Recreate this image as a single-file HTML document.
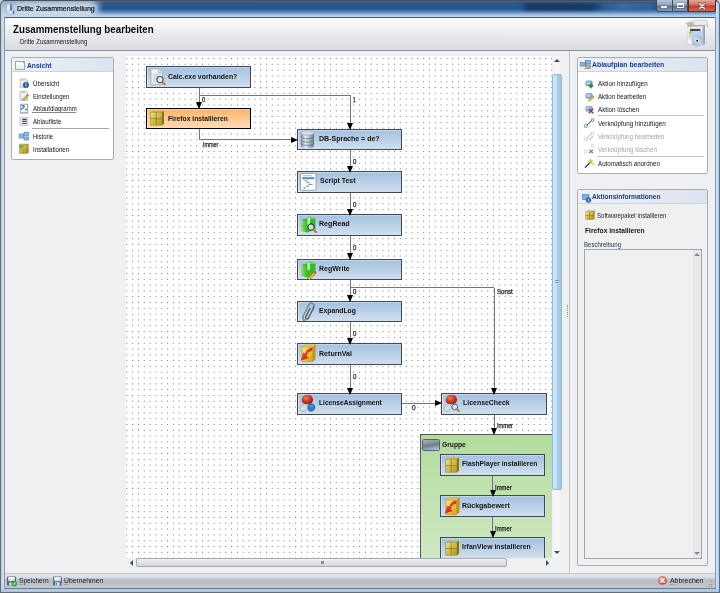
<!DOCTYPE html><html><head><meta charset="utf-8"><style>
*{margin:0;padding:0;box-sizing:border-box}
html,body{width:720px;height:593px;overflow:hidden}
body{position:relative;font-family:"Liberation Sans",sans-serif;background:#c3d7ed;color:#000}
.a{position:absolute}
.t{position:absolute;white-space:nowrap;line-height:1}
.node{position:absolute;border:1px solid #3f4a56;background:linear-gradient(#a3c1e0,#d0dfee);box-shadow:inset 1px 1px 0 rgba(255,255,255,.35)}
.node .l{position:absolute;left:22px;top:50%;transform:translateY(-50%);font-weight:bold;font-size:7.3px;white-space:nowrap;line-height:1;color:#111}
.node svg{position:absolute}
.vl{position:absolute;width:1px;background:#747474}
.hl{position:absolute;height:1px;background:#747474}
.arD{position:absolute;width:0;height:0;border-left:3.5px solid transparent;border-right:3.5px solid transparent;border-top:7px solid #000}
.arR{position:absolute;width:0;height:0;border-top:3.5px solid transparent;border-bottom:3.5px solid transparent;border-left:7px solid #000}
.lb{position:absolute;font-size:6px;line-height:1;color:#222;white-space:nowrap}
.panel{position:absolute;border:1px solid #a9adb3;border-radius:2px;background:#fff}
.ph{position:absolute;left:0;top:0;right:0;height:14px;background:linear-gradient(to right,#eef2f8,#dbe3ee);border-bottom:1px solid #c9d2de}
.pht{position:absolute;font-weight:bold;font-size:6.9px;color:#1e3a8a;white-space:nowrap;line-height:1}
.it{position:absolute;font-size:6.3px;color:#111;white-space:nowrap;line-height:1}
.sep{position:absolute;height:1px;background:#a8a8a8}
</style></head><body><div id="root" style="position:absolute;left:0;top:0;width:720px;height:593px;overflow:hidden">
<div class="a" style="left:0;top:0;width:720px;height:593px;border:1px solid #656c74;border-top-color:#474e56;border-radius:5px 5px 0 0"></div>
<div class="a" style="left:1px;top:1px;width:718px;height:16px;background:linear-gradient(#4a72a2 0,#2a5a92 1px,#245890 8px,#5d86b6 11px,#a5c4e6 14px,#bcd6f2 16px);border-radius:4px 4px 0 0"></div>
<div class="a" style="left:520px;top:2.5px;width:84px;height:8.5px;background:linear-gradient(to right,rgba(14,32,60,0),rgba(14,32,60,.55) 10%,rgba(14,32,60,.5) 85%,rgba(14,32,60,0));filter:blur(1px)"></div>
<div class="a" style="left:600px;top:3px;width:52px;height:7px;background:linear-gradient(to right,rgba(120,150,185,0),rgba(120,150,185,.25) 40%,rgba(120,150,185,.15));filter:blur(1.2px)"></div>
<div class="a" style="left:1px;top:1px;width:104px;height:16px;background:linear-gradient(#97aec8,#b4c8de 50%,#c6daf0);-webkit-mask-image:linear-gradient(to right,#000 88px,transparent 103px);border-radius:4px 0 0 0"></div>
<div class="a" style="left:14px;top:3px;width:84px;height:11px;border-radius:5px;background:rgba(212,226,240,.55);filter:blur(1.5px)"></div>
<div class="a" style="left:1px;top:14px;width:3px;height:578px;background:linear-gradient(to right,#b0cae6,#c2dcf6 40%,#c8e0f8)"></div>
<div class="a" style="left:716px;top:2px;width:3px;height:590px;border-radius:0 3px 0 0;background:linear-gradient(to right,#c8e0f8,#c2dcf6 60%,#b0cae6)"></div>
<div class="a" style="left:1px;top:589px;width:718px;height:3px;background:linear-gradient(#b4d2f2,#a4c2e2)"></div>
<svg class="a" style="left:0;top:0" width="18" height="17" viewBox="0 0 18 17">
<defs><linearGradient id="tig" x1="0" x2="1"><stop offset="0" stop-color="#c8dcee"/><stop offset=".5" stop-color="#f4f8fc"/><stop offset="1" stop-color="#b8d0e8"/></linearGradient></defs>
<path d="M6.6 4.8 l1-.6 h2.6 v7.5 h-3.6z" fill="url(#tig)" stroke="#8aa0b8" stroke-width=".3"/>
<path d="M10.2 4.2 l1.8 .6 v5.5 l-1.8 .3z" fill="#4a7eb6"/>
<path d="M7.8 10.6 h5 l1.3 .7 v2.4 l-1.2 .6 h-5z" fill="#d4e4f2" stroke="#7a96b4" stroke-width=".3"/>
<path d="M12.8 10.6 l1.3 .7 v2.4 l-1.2 .6z" fill="#3a6494"/>
</svg>
<div class="t" style="left:16.80px;top:4.91px;font-size:7.20px;color:#101018;transform:scaleX(0.9733);transform-origin:0 0;-webkit-text-stroke:0.2px #101018;">Dritte Zusammenstellung</div>
<div class="a" style="left:656px;top:0;width:32px;height:12px;border:1px solid #3c4a5a;border-top:none;border-radius:0 0 0 3px;background:linear-gradient(#b6c6d8,#8ea4bc 45%,#5b7391 55%,#7f98b4)"></div>
<div class="a" style="left:672px;top:0;width:1px;height:11px;background:#3c4a5a"></div>
<div class="a" style="left:688px;top:0;width:28px;height:12px;border:1px solid #5a2a20;border-top:none;border-radius:0 0 3px 0;background:linear-gradient(#e8a898,#d27060 45%,#c03a22 55%,#d86a50)"></div>
<div class="a" style="left:661px;top:6px;width:6px;height:2px;background:#fff;box-shadow:0 0 1px #333"></div>
<div class="a" style="left:677px;top:3px;width:7px;height:5px;border:1px solid #fff;border-top-width:2px;box-shadow:0 0 1px #333"></div>
<svg class="a" style="left:698px;top:2px" width="8" height="8" viewBox="0 0 8 8"><path d="M1.5 1.5 l5 5 M6.5 1.5 l-5 5" stroke="#5a3a38" stroke-width="2.6" stroke-linecap="round"/><path d="M1.5 1.5 l5 5 M6.5 1.5 l-5 5" stroke="#fff" stroke-width="1.5" stroke-linecap="round"/></svg>
<div class="a" style="left:4px;top:17px;width:712px;height:572px;border:1px solid #8e98a2;border-top-color:#50585f;border-bottom-color:#6e7884;background:#eff0f2"></div>
<div class="a" style="left:5px;top:18px;width:710px;height:33px;background:linear-gradient(#fdfdfd,#f2f2f3 30%,#d7dbe0);border-bottom:1px solid #8f9397"></div>
<div class="t" style="left:12.90px;top:23.87px;font-size:10.90px;font-weight:bold;color:#0a0a0a;transform:scaleX(0.8934);transform-origin:0 0;">Zusammenstellung bearbeiten</div>
<div class="t" style="left:19.70px;top:37.67px;font-size:7.00px;color:#1a1a22;transform:scaleX(0.8649);transform-origin:0 0;">Dritte Zusammenstellung</div>
<svg class="a" style="left:684px;top:18px" width="28" height="32" viewBox="0 0 28 32">
<defs><linearGradient id="cdg" x1="0" y1="0" x2="1" y2="1"><stop offset="0" stop-color="#e8f0f8"/><stop offset=".5" stop-color="#a8bed4"/><stop offset="1" stop-color="#d8e4ee"/></linearGradient>
<linearGradient id="bsd" x1="0" x2="1"><stop offset="0" stop-color="#c0ccd8"/><stop offset="1" stop-color="#8a9cb0"/></linearGradient></defs>
<path d="M9.5 2.2 l13.5 -.2 l.6 5 l-13.5 .5z" fill="#eceef0" stroke="#a8b0b8" stroke-width=".5"/>
<path d="M2.2 5.2 l5.5-1.5 l2.5 3.5 l-5.5 1.2z" fill="#b4bec8" stroke="#8a96a2" stroke-width=".4"/>
<path d="M23 7 l1.5 1.5 l-1 1.2z" fill="#8a96a2"/>
<path d="M18 9 l3-1.5 v18.5 l-3 1.8z" fill="url(#bsd)"/>
<rect x="4" y="8.5" width="14.2" height="17.5" fill="#fbfcfd" stroke="#b8c0c8" stroke-width=".5"/>
<path d="M4.5 8.3 l13.5-.8 l3 .3" stroke="#d8a838" stroke-width="1" fill="none"/>
<rect x="6" y="10.8" width="10.5" height="2.2" fill="#3a4a60"/>
<rect x="5" y="13" width="13" height="7.5" fill="#b8d8f4"/>
<circle cx="6.5" cy="14.3" r="1.6" fill="#f0c020"/>
<circle cx="13.2" cy="22.7" r="5.5" fill="url(#cdg)" stroke="#8aa0b8" stroke-width=".5"/>
<circle cx="13.2" cy="22.7" r="2.6" fill="#d8e4ee" stroke="#a8b8c8" stroke-width=".4"/>
<circle cx="13.2" cy="22.7" r="1" fill="#1a1a1a"/>
</svg>
<div class="panel" style="left:11px;top:57px;width:103px;height:103px">
<div class="ph"></div>
<div class="a" style="left:3px;top:3px;width:10px;height:9px;border:1px solid #9aa6b4;background:linear-gradient(#fff,#e6ecf2)"></div>
<div class="a" style="left:11px;top:4px;width:1px;height:1px;background:#e86a3a"></div>
</div>
<div class="t" style="left:26.50px;top:61.87px;font-size:7.00px;font-weight:bold;color:#1e3a8a;transform:scaleX(0.9544);transform-origin:0 0;">Ansicht</div>
<div class="t" style="left:32.50px;top:80.07px;font-size:7.00px;color:#141414;transform:scaleX(0.8895);transform-origin:0 0;">Übersicht</div>
<div class="t" style="left:32.50px;top:92.77px;font-size:7.00px;color:#141414;transform:scaleX(0.8612);transform-origin:0 0;">Einstellungen</div>
<div class="t" style="left:32.50px;top:105.37px;font-size:7.00px;color:#141414;transform:scaleX(0.8573);transform-origin:0 0;">Ablaufdiagramm</div>
<div class="t" style="left:32.50px;top:118.47px;font-size:7.00px;color:#141414;transform:scaleX(0.8762);transform-origin:0 0;">Ablaufliste</div>
<div class="t" style="left:32.50px;top:132.97px;font-size:7.00px;color:#141414;transform:scaleX(0.8471);transform-origin:0 0;">Historie</div>
<div class="t" style="left:32.50px;top:145.87px;font-size:7.00px;color:#141414;transform:scaleX(0.8774);transform-origin:0 0;">Installationen</div>
<svg class="a" style="left:17px;top:76px" width="14" height="80" viewBox="17 76 14 80">
<defs><linearGradient id="lpd" x1="0" y1="0" x2="1" y2="1"><stop offset="0" stop-color="#fdfdfd"/><stop offset="1" stop-color="#cfe0f0"/></linearGradient>
<linearGradient id="lpg" x1="0" y1="0" x2="1" y2="1"><stop offset="0" stop-color="#f0e088"/><stop offset="1" stop-color="#a88c18"/></linearGradient></defs>
<!-- Uebersicht -->
<path d="M20.2 79 h5.8 l1.6 1.6 v6.6 h-7.4z" fill="url(#lpd)" stroke="#8a96a4" stroke-width=".6"/>
<path d="M21.2 80.2 h3.5" stroke="#e0c060" stroke-width=".8"/>
<circle cx="25.9" cy="85" r="2.8" fill="#1a5aa8" stroke="#0e3a78" stroke-width=".4"/>
<rect x="25.5" y="84.2" width=".9" height="2.3" fill="#fff"/><rect x="25.5" y="82.9" width=".9" height=".8" fill="#fff"/>
<!-- Einstellungen -->
<path d="M20.2 91.5 h5.8 l1.6 1.6 v7.2 h-7.4z" fill="url(#lpd)" stroke="#8a96a4" stroke-width=".6"/>
<path d="M21.2 92.7 h3.5" stroke="#e0c060" stroke-width=".8"/>
<path d="M22.3 99.6 l4.8-4.8 l1.3 1.3 l-4.8 4.8z" fill="#e8b828" stroke="#8a6010" stroke-width=".4"/>
<path d="M27.1 94.8 l1.3 1.3 l.7-.7 l-1.3-1.3z" fill="#e04848"/>
<!-- Ablaufdiagramm -->
<rect x="20.3" y="104.2" width="7.4" height="8.6" fill="#f4f8fb" stroke="#7a8894" stroke-width=".7"/>
<path d="M27.7 104.6 v8.6 h-7" stroke="#a0a8b0" stroke-width=".8" fill="none"/>
<path d="M21.5 106 q1.5-1 2.8 .5 q-.5 1.5 -1.8 1.8 q-1.2 .3 -1 1.5" stroke="#2a6ab8" stroke-width="1.1" fill="none"/>
<circle cx="25.9" cy="109.5" r="1.1" fill="#40b040"/><circle cx="24.2" cy="106" r=".7" fill="#60c060"/>
<!-- Ablaufliste -->
<rect x="19.9" y="117.2" width="8" height="8.4" fill="#f0f2f4" stroke="#b0b6bc" stroke-width=".6"/>
<path d="M20.9 117.5 v8" stroke="#c8ccd0" stroke-width=".5"/>
<path d="M22.2 119.4 h4.6 M22.2 121.4 h4.6 M22.2 123.5 h4.6" stroke="#1e4a88" stroke-width="1.1"/>
<!-- Historie -->
<rect x="19.2" y="134" width="4.1" height="4.1" rx=".5" fill="#8cc0ec" stroke="#2a64a8" stroke-width=".6"/>
<rect x="23.9" y="132.3" width="4.8" height="3.3" rx=".5" fill="#8cc0ec" stroke="#2a64a8" stroke-width=".6"/>
<rect x="23.9" y="136.9" width="4.8" height="3.1" rx=".5" fill="#8cc0ec" stroke="#2a64a8" stroke-width=".6"/>
<path d="M23.3 136 h.6" stroke="#2a64a8" stroke-width=".8"/>
<!-- Installationen -->
<path d="M19.3 145 l1.5-1 h7.6 v8.2 l-1.2 1.2 h-7.9z" fill="url(#lpg)" stroke="#8a7410" stroke-width=".4"/>
<path d="M27.2 145 v8.4 M19.3 145 h7.9" stroke="#7a6810" stroke-width=".4" fill="none"/>
<path d="M23.2 145 v8.4 M19.3 149.2 h7.9" stroke="#9a8a30" stroke-width=".5"/>
<path d="M19.6 144.3 l3.6 2.2 l-3.6 2.4z" fill="#38b828"/>
</svg>
<div class="a" style="left:32.3px;top:112px;width:43.7px;height:1px;background:#8a8a8a"></div>
<div class="sep" style="left:32px;top:128px;width:77px"></div>
<div class="panel" style="left:577px;top:57px;width:131px;height:117px">
<div class="ph"></div>
<svg class="a" style="left:2px;top:2px" width="11" height="10" viewBox="0 0 11 10"><rect x="0.5" y="2.5" width="5" height="3.5" fill="#8ab8e0" stroke="#2a5a9a" stroke-width=".5"/><rect x="5.5" y="0.5" width="5" height="3.5" fill="#8ab8e0" stroke="#2a5a9a" stroke-width=".5"/><rect x="5.5" y="5" width="5" height="3.5" fill="#8ab8e0" stroke="#2a5a9a" stroke-width=".5"/><path d="M4 9 l4-4 l1 1 l-4 4z" fill="#e0b030"/></svg>
</div>
<div class="t" style="left:592.10px;top:61.47px;font-size:7.00px;font-weight:bold;color:#1e3a8a;transform:scaleX(0.9820);transform-origin:0 0;">Ablaufplan bearbeiten</div>
<svg class="a" style="left:583px;top:78px" width="14" height="92" viewBox="583 78 14 92">
<defs><linearGradient id="rpb" x1="0" y1="0" x2="1" y2="1"><stop offset="0" stop-color="#d8ecfc"/><stop offset="1" stop-color="#6aa4dc"/></linearGradient></defs>
<rect x="586" y="81.1" width="6.1" height="4.4" rx=".6" fill="url(#rpb)" stroke="#2a5a9a" stroke-width=".6"/>
<path d="M590.9 83.6 v4.6 M588.6 85.9 h4.6" stroke="#209020" stroke-width="1.7"/>
<rect x="586" y="93.7" width="6.1" height="4.4" rx=".6" fill="url(#rpb)" stroke="#2a5a9a" stroke-width=".6"/>
<path d="M588.3 100.3 l4.3-4.3 l1.2 1.2 l-4.3 4.3z" fill="#e8c030" stroke="#8a6010" stroke-width=".4"/><path d="M592.6 96 l1.2 1.2 l.6-.6 l-1.2-1.2z" fill="#e04848"/>
<rect x="586" y="106.7" width="6.1" height="4.4" rx=".6" fill="url(#rpb)" stroke="#2a5a9a" stroke-width=".6"/>
<path d="M588.8 108.8 l4.4 4.4 M593.2 108.8 l-4.4 4.4" stroke="#d42020" stroke-width="1.4"/>
<g fill="#dfeef8" stroke="#505a64" stroke-width=".6"><circle cx="592.6" cy="120.2" r="1.5"/><circle cx="585.8" cy="126" r="1.6"/></g>
<path d="M587 125 l4.4-4" stroke="#383e44" stroke-width="1"/>
<g opacity=".4"><g fill="#eef4f8" stroke="#606870" stroke-width=".6"><circle cx="592.6" cy="133" r="1.5"/><circle cx="585.8" cy="138.8" r="1.6"/></g>
<path d="M587 137.8 l4.4-4" stroke="#404850" stroke-width="1"/><path d="M588.5 139.5 l4-4 l1 1 l-4 4z" fill="#808080"/>
<g fill="#eef4f8" stroke="#606870" stroke-width=".6"><circle cx="592.6" cy="145.8" r="1.5"/><circle cx="585.8" cy="151.6" r="1.6"/></g></g>
<path d="M589.3 149.6 l3.6 3.6 M592.9 149.6 l-3.6 3.6" stroke="#707478" stroke-width="1.1"/>
<path d="M585 167.6 l5.6-5.6" stroke="#2a2e32" stroke-width="1.3"/>
<path d="M590.2 159 l.8 1.6 l1.7-.1 l-1 1.3 l.8 1.5 l-1.6-.4 l-1.1 1.2 l-.1-1.7 l-1.5-.8 l1.6-.5z" fill="#e8d020" stroke="#a89010" stroke-width=".3"/>
<path d="M593.2 162.4 l.5 1 l1.1 0 l-.7.8 l.4 1 l-1-.3 l-.8.8 l0-1.1 l-1-.5 l1.1-.3z" fill="#e8d020"/>
</svg>
<div class="t" style="left:597.90px;top:80.27px;font-size:7.00px;color:#141414;transform:scaleX(0.8930);transform-origin:0 0;">Aktion hinzufügen</div>
<div class="t" style="left:597.90px;top:92.87px;font-size:7.00px;color:#141414;transform:scaleX(0.8827);transform-origin:0 0;">Aktion bearbeiten</div>
<div class="t" style="left:597.90px;top:105.87px;font-size:7.00px;color:#141414;transform:scaleX(0.9027);transform-origin:0 0;">Aktion löschen</div>
<div class="t" style="left:597.90px;top:120.07px;font-size:7.00px;color:#141414;transform:scaleX(0.8978);transform-origin:0 0;">Verknüpfung hinzufügen</div>
<div class="t" style="left:597.90px;top:132.87px;font-size:7.00px;color:#a4a4a4;transform:scaleX(0.8917);transform-origin:0 0;">Verknüpfung bearbeiten</div>
<div class="t" style="left:597.90px;top:145.67px;font-size:7.00px;color:#a4a4a4;transform:scaleX(0.9007);transform-origin:0 0;">Verknüpfung löschen</div>
<div class="t" style="left:597.90px;top:160.07px;font-size:7.00px;color:#141414;transform:scaleX(0.8836);transform-origin:0 0;">Automatisch anordnen</div>
<div class="sep" style="left:598px;top:115px;width:105.5px;background:#c0c0c0"></div>
<div class="sep" style="left:598px;top:156px;width:105.5px;background:#c0c0c0"></div>
<div class="panel" style="left:577px;top:189px;width:131px;height:377px;background:#eff0f2">
<div class="ph"></div>
<svg class="a" style="left:4px;top:3.5px" width="10" height="9" viewBox="0 0 10 9"><rect x="0.5" y="0.5" width="6.5" height="5" fill="#7ab0e0" stroke="#3a6a9a" stroke-width=".5"/><circle cx="6.5" cy="6" r="2.5" fill="#2a6cc0" stroke="#1a4a8a" stroke-width=".4"/><rect x="6.1" y="5" width=".8" height="2.2" fill="#fff"/></svg>
</div>
<div class="t" style="left:592.20px;top:192.87px;font-size:7.00px;font-weight:bold;color:#1e3a8a;transform:scaleX(0.9483);transform-origin:0 0;">Aktionsinformationen</div>
<svg class="a" style="left:585px;top:210px" width="11" height="11" viewBox="0 0 11 11"><defs><linearGradient id="sbx" x1="0" y1="0" x2="1" y2="1"><stop offset="0" stop-color="#eee294"/><stop offset=".5" stop-color="#d0bc48"/><stop offset="1" stop-color="#a89020"/></linearGradient></defs><path d="M0.8 1.6 l1.6-1 h7.2 l-1.4 1z" fill="#c8b440"/><path d="M8.2 1.6 l1.4-1 v7.8 l-1.4 1.2z" fill="#8e7a14"/><rect x="0.8" y="1.6" width="7.4" height="8" fill="url(#sbx)" stroke="#9a8620" stroke-width=".4"/><path d="M4.5 1.6 v8 M0.8 5.6 h7.4" stroke="#8a7a28" stroke-width=".6"/></svg>
<div class="t" style="left:597.40px;top:211.97px;font-size:7.00px;color:#202020;transform:scaleX(0.8657);transform-origin:0 0;">Softwarepaket installieren</div>
<div class="t" style="left:585.30px;top:227.17px;font-size:7.00px;font-weight:bold;color:#141414;transform:scaleX(0.9590);transform-origin:0 0;">Firefox installieren</div>
<div class="t" style="left:583.90px;top:240.67px;font-size:7.00px;color:#283048;transform:scaleX(0.8666);transform-origin:0 0;">Beschreibung</div>
<div class="a" style="left:584px;top:249px;width:117.5px;height:310px;border:1px solid #a0a4a8;background:#eff0f2"></div>
<div class="a" style="left:693px;top:250px;width:7.5px;height:308px;background:#e8e8ea"></div>
<div class="a" style="left:694px;top:253px;width:0;height:0;border-left:3px solid transparent;border-right:3px solid transparent;border-bottom:3px solid #7a88b0"></div>
<div class="a" style="left:694px;top:551.5px;width:0;height:0;border-left:3px solid transparent;border-right:3px solid transparent;border-top:3px solid #7a88b0"></div>
<div class="a" style="left:569px;top:51px;width:1px;height:522px;background:#c4c6ca"></div>
<div class="a" style="left:567px;top:305px;width:1px;height:12px;border-left:1px dotted #8a8c90"></div>
<div class="a" style="left:5px;top:573px;width:710px;height:15px;border-top:1px solid #c6c8cc;background:linear-gradient(#e4e6ea 0,#dcdfe4 3px,#b9bdc5 6px,#bcc0c7 9px,#c6c9ce 14px)"></div>
<svg class="a" style="left:6px;top:576px" width="12" height="11" viewBox="6 576 12 11"><defs><linearGradient id="flb" x1="0" y1="0" x2="0" y2="1"><stop offset="0" stop-color="#ffffff"/><stop offset="1" stop-color="#bcd8f0"/></linearGradient></defs><rect x="7" y="576.5" width="9" height="9" rx="1" fill="#5c636b"/><rect x="8.2" y="577" width="6.6" height="4.2" fill="url(#flb)"/><rect x="9.3" y="582.4" width="4.4" height="3.1" fill="#dde2e8"/><circle cx="14.2" cy="583.6" r="2.7" fill="#34b03c" stroke="#1e8024" stroke-width=".4"/><path d="M12.9 583.6 l1 1 l1.6-1.9" stroke="#fff" stroke-width=".8" fill="none"/></svg>
<div class="t" style="left:18.50px;top:576.95px;font-size:7.50px;color:#202030;transform:scaleX(0.8764);transform-origin:0 0;"><u style="text-decoration-color:#a0a0a0">S</u>peichern</div>
<svg class="a" style="left:52px;top:576px" width="11" height="11" viewBox="52 576 11 11"><defs><linearGradient id="flb2" x1="0" y1="0" x2="0" y2="1"><stop offset="0" stop-color="#ffffff"/><stop offset="1" stop-color="#bcd8f0"/></linearGradient></defs><rect x="53.1" y="576.5" width="8.7" height="9" rx="1" fill="#4c6c90"/><rect x="54.2" y="577" width="6.5" height="4.2" fill="url(#flb2)"/><rect x="55.3" y="582.3" width="4.3" height="3.2" fill="#e4eaf0"/><rect x="56" y="583" width="1" height="1.8" fill="#4c6c90"/></svg>
<div class="t" style="left:64.40px;top:576.95px;font-size:7.50px;color:#202030;transform:scaleX(0.9063);transform-origin:0 0;"><u style="text-decoration-color:#a0a0a0">Ü</u>bernehmen</div>
<svg class="a" style="left:658px;top:576.3px" width="9" height="9" viewBox="0 0 9 9"><defs><radialGradient id="abg" cx=".4" cy=".35" r=".7"><stop offset="0" stop-color="#f8b0a8"/><stop offset=".6" stop-color="#e46a62"/><stop offset="1" stop-color="#c04040"/></radialGradient></defs><circle cx="4.5" cy="4.5" r="4.1" fill="url(#abg)" stroke="#b84848" stroke-width=".4"/><path d="M2.4 2.4l4.2 4.2M6.6 2.4l-4.2 4.2" stroke="#fff" stroke-width="1.3"/></svg>
<div class="t" style="left:669.60px;top:576.95px;font-size:7.50px;color:#202030;transform:scaleX(0.9206);transform-origin:0 0;"><u style="text-decoration-color:#a0a0a0">A</u>bbrechen</div>
<div class="a" style="left:711px;top:581px;width:1.2px;height:1.2px;background:#8a8e94"></div>
<div class="a" style="left:711px;top:583.5px;width:1.2px;height:1.2px;background:#8a8e94"></div>
<div class="a" style="left:708.5px;top:583.5px;width:1.2px;height:1.2px;background:#8a8e94"></div>
<div class="a" style="left:711px;top:586px;width:1.2px;height:1.2px;background:#8a8e94"></div>
<div class="a" style="left:708.5px;top:586px;width:1.2px;height:1.2px;background:#8a8e94"></div>
<div class="a" style="left:706px;top:586px;width:1.2px;height:1.2px;background:#8a8e94"></div>
<div class="a" style="left:126px;top:56px;width:426px;height:502px;background:#fff;overflow:hidden">
<svg class="a" style="left:0;top:0" width="426" height="502"><defs><pattern id="g" patternUnits="userSpaceOnUse" x="0.3" y="2.0" width="5.82" height="5.81"><rect x="0" y="0" width="1" height="1" fill="#7a7a7a"/></pattern></defs><rect width="100%" height="100%" fill="url(#g)"/></svg>
</div>
<div class="node" style="left:146.0px;top:66.0px;width:105.0px;height:22.0px;"><svg style="left:3px;top:1.3px" width="17" height="18" viewBox="0 0 17 18"><defs><linearGradient id="dsg" x1="0" y1="0" x2="1" y2="1"><stop offset="0" stop-color="#fafafa"/><stop offset="1" stop-color="#dcdcdc"/></linearGradient></defs><path d="M1 0.8 h7.5 l4 4 v12 h-11.5z" fill="url(#dsg)" stroke="#a0a0a0" stroke-width=".7"/><path d="M8.5 0.8 v4 h4" fill="#e4e4e4" stroke="#a8a8a8" stroke-width=".6"/><path d="M2.8 6.5h7M2.8 8.3h7M2.8 10.1h4.5M2.8 11.9h3.5M2.8 13.7h3" stroke="#c4c4c4" stroke-width=".8"/><circle cx="10" cy="11.6" r="3.1" fill="#e4eef6" stroke="#3c4650" stroke-width="1.1"/><path d="M12.3 13.9 l3.2 3.2" stroke="#b07830" stroke-width="2"/></svg></div>
<div class="t" style="left:168.40px;top:72.75px;font-size:7.50px;font-weight:bold;color:#121212;transform:scaleX(0.9185);transform-origin:0 0;">Calc.exe vorhanden?</div>
<div class="node" style="left:146.0px;top:108.0px;width:105.0px;height:21.0px;background:linear-gradient(#fbb468,#ffdcb6);border:1.5px solid #000"><svg style="left:1.6px;top:0.8px" width="17" height="17" viewBox="0 0 17 17"><defs><linearGradient id="bxg" x1="0" y1="0" x2="1" y2="1"><stop offset="0" stop-color="#eee294"/><stop offset=".5" stop-color="#d0bc48"/><stop offset="1" stop-color="#b09820"/></linearGradient></defs><path d="M1.5 2.2 l2.5-1.4 h11 l-2 1.4z" fill="#c8b440"/><path d="M13 2.2 l2-1.4 v12.6 l-2 1.8z" fill="#8e7a14"/><rect x="1.5" y="2.2" width="11.5" height="13" fill="url(#bxg)" stroke="#9a8620" stroke-width=".5"/><path d="M7.2 2.2 v13 M1.5 8.6 h11.5" stroke="#8a7a28" stroke-width=".8"/><path d="M14 1.5 v13" stroke="#6e6010" stroke-width=".5"/></svg></div>
<div class="t" style="left:168.20px;top:114.55px;font-size:7.50px;font-weight:bold;color:#121212;transform:scaleX(0.8966);transform-origin:0 0;">Firefox installieren</div>
<div class="node" style="left:297.0px;top:129.0px;width:105.0px;height:21.0px;"><svg style="left:2px;top:0.3px" width="15" height="19" viewBox="0 0 15 19"><defs><linearGradient id="dbg" x1="0" x2="1"><stop offset="0" stop-color="#7e8e9c"/><stop offset=".35" stop-color="#e6ecf0"/><stop offset=".6" stop-color="#b8c4ce"/><stop offset="1" stop-color="#6a7a88"/></linearGradient></defs><path d="M0.8 3 v13 a6.6 2.2 0 0 0 13.2 0 v-13z" fill="url(#dbg)"/><ellipse cx="7.4" cy="3" rx="6.6" ry="2.2" fill="#d4dde4" stroke="#8a98a6" stroke-width=".5"/><path d="M0.8 6.6 a6.6 2.2 0 0 0 13.2 0 M0.8 9.9 a6.6 2.2 0 0 0 13.2 0 M0.8 13.2 a6.6 2.2 0 0 0 13.2 0" fill="none" stroke="#5a6a78" stroke-width=".7"/></svg></div>
<div class="t" style="left:319.10px;top:135.05px;font-size:7.50px;font-weight:bold;color:#121212;transform:scaleX(0.9350);transform-origin:0 0;">DB-Sprache = de?</div>
<div class="node" style="left:297.0px;top:171.0px;width:105.0px;height:21.5px;"><svg style="left:2px;top:0.8px" width="17" height="18" viewBox="0 0 17 18"><rect x="0.5" y="0.5" width="15.5" height="16.8" rx="1.5" fill="#fbfcfd" stroke="#8a96a2" stroke-width=".8"/><path d="M3 2.8 h9" stroke="#7888a0" stroke-width=".6"/><rect x="2.3" y="4.3" width="12" height="1.8" fill="#3a88d6"/><path d="M4.5 7.8 h3 M6.5 9.6h3 M8.5 11.4h4 M6 13.2h3 M3.5 15h2.5" stroke="#3a4450" stroke-width=".65"/></svg></div>
<div class="t" style="left:319.50px;top:177.25px;font-size:7.50px;font-weight:bold;color:#121212;transform:scaleX(0.9292);transform-origin:0 0;">Script Test</div>
<div class="node" style="left:297.0px;top:214.0px;width:105.0px;height:21.5px;"><svg style="left:1.7px;top:1.2px" width="18" height="19" viewBox="0 0 18 19"><defs><linearGradient id="grg" x1="0" x2="1"><stop offset="0" stop-color="#8ef070"/><stop offset="1" stop-color="#38b020"/></linearGradient></defs><path d="M1 4 l5.5-1.5 l9 .5 v10 l-8 3.5 l-6.5-2z" fill="#3cb828"/><path d="M1 4 l6.5 1.5 v11 l-6.5-2z" fill="url(#grg)"/><path d="M6.5 2.5 l3-2 l6 1.5 v1 l-6-1z" fill="#60d040"/><path d="M7.5 2.5 l2.5 -1 v7 l-2.5 1z" fill="#c8f0b8"/><path d="M1 9.3 l6.5 1.8 M4.2 4.8 v10.8" stroke="#50c838" stroke-width=".5"/><circle cx="11" cy="11" r="3.1" fill="#dfeaf0" fill-opacity=".85" stroke="#3a4440" stroke-width="1.1"/><path d="M13.3 13.3 l3.4 3.4" stroke="#b07830" stroke-width="2"/></svg></div>
<div class="t" style="left:319.30px;top:220.45px;font-size:7.50px;font-weight:bold;color:#121212;transform:scaleX(0.9443);transform-origin:0 0;">RegRead</div>
<div class="node" style="left:297.0px;top:259.0px;width:105.0px;height:21.0px;"><svg style="left:1.7px;top:1.2px" width="18" height="19" viewBox="0 0 18 19"><defs><linearGradient id="grg" x1="0" x2="1"><stop offset="0" stop-color="#8ef070"/><stop offset="1" stop-color="#38b020"/></linearGradient></defs><path d="M1 4 l5.5-1.5 l9 .5 v10 l-8 3.5 l-6.5-2z" fill="#3cb828"/><path d="M1 4 l6.5 1.5 v11 l-6.5-2z" fill="url(#grg)"/><path d="M6.5 2.5 l3-2 l6 1.5 v1 l-6-1z" fill="#60d040"/><path d="M7.5 2.5 l2.5 -1 v7 l-2.5 1z" fill="#c8f0b8"/><path d="M1 9.3 l6.5 1.8 M4.2 4.8 v10.8" stroke="#50c838" stroke-width=".5"/><path d="M7.5 17.5 l6.5-6.5 l1.7 1.7 l-6.5 6.5 z" fill="#f0b830" stroke="#7a5010" stroke-width=".5"/><path d="M14 11 l1.7 1.7 l1-1 l-1.7-1.7z" fill="#e04040"/><path d="M7.5 17.5 l-.6 1.8 l1.9-.6z" fill="#333"/></svg></div>
<div class="t" style="left:319.30px;top:265.25px;font-size:7.50px;font-weight:bold;color:#121212;transform:scaleX(0.9365);transform-origin:0 0;">RegWrite</div>
<div class="node" style="left:297.0px;top:301.0px;width:105.0px;height:21.0px;"><svg style="left:3.7px;top:0px" width="14" height="20" viewBox="0 0 14 20"><path d="M3.5 18.5 C0.8 18.5 0.5 15.5 1.5 13.5 L7 2.5 C8.3 0.3 12 0.8 12 3.5 C12 5 11.4 6.2 10.8 7.4 L6.5 16 C5.4 17.8 2.8 17 3.8 14.8 L8.2 6" fill="none" stroke="#5c646c" stroke-width="1.5"/><path d="M3.5 18.5 C0.8 18.5 0.5 15.5 1.5 13.5 L7 2.5 C8.3 0.3 12 0.8 12 3.5" fill="none" stroke="#d0d4d8" stroke-width=".5"/></svg></div>
<div class="t" style="left:319.00px;top:307.45px;font-size:7.50px;font-weight:bold;color:#121212;transform:scaleX(0.9037);transform-origin:0 0;">ExpandLog</div>
<div class="node" style="left:297.0px;top:343.0px;width:105.0px;height:21.5px;"><svg style="left:2.1px;top:0.0px" width="17" height="19" viewBox="0 0 17 19"><defs><linearGradient id="rtg" x1="0" y1="0" x2="1" y2="1"><stop offset="0" stop-color="#fae878"/><stop offset=".5" stop-color="#f2c830"/><stop offset="1" stop-color="#d8a010"/></linearGradient><linearGradient id="rtr" x1="0" y1="0" x2="1" y2="1"><stop offset="0" stop-color="#ff8a8a"/><stop offset=".5" stop-color="#e83030"/><stop offset="1" stop-color="#b81818"/></linearGradient></defs><path d="M2 3 l3.5-2.2 h10 l-3 2.2z" fill="#f0d060" stroke="#b88a10" stroke-width=".4"/><path d="M12.5 3 l3-2.2 v14.5 l-3 2.6z" fill="#c8900c"/><rect x="2" y="3" width="10.5" height="14.9" fill="url(#rtg)" stroke="#b08410" stroke-width=".4"/><path d="M12 4 C8 4.3 6.2 6.8 6 10 L3.4 9 L1.2 16.2 L8.4 13.8 L6.2 12.5 C6.5 9.6 8.3 7.2 12 6.3 Z" fill="url(#rtr)" stroke="#a01414" stroke-width=".4"/></svg></div>
<div class="t" style="left:319.00px;top:349.75px;font-size:7.50px;font-weight:bold;color:#121212;transform:scaleX(0.9426);transform-origin:0 0;">ReturnVal</div>
<div class="node" style="left:297.0px;top:393.0px;width:105.0px;height:21.5px;"><svg style="left:1.3px;top:0px" width="18" height="19" viewBox="0 0 18 19"><defs><radialGradient id="lcg" cx=".4" cy=".35" r=".7"><stop offset="0" stop-color="#f08060"/><stop offset=".5" stop-color="#c84020"/><stop offset="1" stop-color="#8a2010"/></radialGradient></defs><path d="M3 4.5 q1-3.8 5.5-3.8 q4.2 0 5.2 3.3 q1 3.2 -1.2 5.2 q-4.2 2.2 -8.3 0 q-2.2-1.6 -1.2-4.7z" fill="url(#lcg)"/><path d="M0.8 14.5 q2-4.5 5.5-4.3 q3 1 2 4.3 q-2 3.2 -5.5 3.1z" fill="#d8dde2" stroke="#8a9098" stroke-width=".5"/><path d="M9.5 11 q2.5-2.5 5 -.5 q2.5 1.5 1 4.5 q-1.2 3 -4.5 2.2 q-3.2-1 -1.5-6.2z" fill="#2a7ccc" stroke="#1a4a8a" stroke-width=".5"/><path d="M11 12.5 q1.5-1 3 0" stroke="#9cd0f8" stroke-width=".7" fill="none"/></svg></div>
<div class="t" style="left:319.00px;top:399.35px;font-size:7.50px;font-weight:bold;color:#121212;transform:scaleX(0.8863);transform-origin:0 0;">LicenseAssignment</div>
<div class="node" style="left:441.0px;top:393.0px;width:105.5px;height:21.5px;"><svg style="left:1.3px;top:0px" width="18" height="19" viewBox="0 0 18 19"><defs><radialGradient id="lcg" cx=".4" cy=".35" r=".7"><stop offset="0" stop-color="#f08060"/><stop offset=".5" stop-color="#c84020"/><stop offset="1" stop-color="#8a2010"/></radialGradient></defs><path d="M3 4.5 q1-3.8 5.5-3.8 q4.2 0 5.2 3.3 q1 3.2 -1.2 5.2 q-4.2 2.2 -8.3 0 q-2.2-1.6 -1.2-4.7z" fill="url(#lcg)"/><path d="M0.8 14.5 q2-4.5 5.5-4.3 q3 1 2 4.3 q-2 3.2 -5.5 3.1z" fill="#d8dde2" stroke="#8a9098" stroke-width=".5"/><circle cx="11.8" cy="13" r="2.9" fill="#dde4ea" fill-opacity=".8" stroke="#505860" stroke-width=".9"/><path d="M13.9 15.1 l2.6 2.6" stroke="#b07830" stroke-width="1.7"/></svg></div>
<div class="t" style="left:463.20px;top:399.45px;font-size:7.50px;font-weight:bold;color:#121212;transform:scaleX(0.9257);transform-origin:0 0;">LicenseCheck</div>
<div class="vl" style="left:198.5px;top:88.0px;height:20.0px"></div>
<div class="arD" style="left:196.0px;top:102.0px"></div>
<div class="t" style="left:202.30px;top:95.50px;font-size:7.40px;color:#1a1a1a;transform:scaleX(0.7775);transform-origin:0 0;-webkit-text-stroke:0.25px #1a1a1a;">0</div>
<div class="hl" style="left:199.0px;top:94.5px;width:151.0px"></div>
<div class="vl" style="left:349.5px;top:95.0px;height:34.0px"></div>
<div class="arD" style="left:347.0px;top:123.0px"></div>
<div class="t" style="left:352.50px;top:95.90px;font-size:7.40px;color:#1a1a1a;transform:scaleX(0.6074);transform-origin:0 0;-webkit-text-stroke:0.25px #1a1a1a;">1</div>
<div class="vl" style="left:198.5px;top:129.0px;height:10.5px"></div>
<div class="hl" style="left:199.0px;top:139.0px;width:98.0px"></div>
<div class="arR" style="left:291.0px;top:136.5px"></div>
<div class="t" style="left:202.60px;top:140.60px;font-size:7.40px;color:#1a1a1a;transform:scaleX(0.7251);transform-origin:0 0;-webkit-text-stroke:0.25px #1a1a1a;">Immer</div>
<div class="vl" style="left:349.5px;top:150.0px;height:21.5px"></div>
<div class="arD" style="left:347.0px;top:165.5px"></div>
<div class="t" style="left:352.90px;top:158.10px;font-size:7.40px;color:#1a1a1a;transform:scaleX(0.8261);transform-origin:0 0;-webkit-text-stroke:0.25px #1a1a1a;">0</div>
<div class="vl" style="left:349.5px;top:192.5px;height:22.0px"></div>
<div class="arD" style="left:347.0px;top:208.5px"></div>
<div class="t" style="left:352.90px;top:200.60px;font-size:7.40px;color:#1a1a1a;transform:scaleX(0.8261);transform-origin:0 0;-webkit-text-stroke:0.25px #1a1a1a;">0</div>
<div class="vl" style="left:349.5px;top:235.5px;height:23.5px"></div>
<div class="arD" style="left:347.0px;top:253.0px"></div>
<div class="t" style="left:352.90px;top:243.60px;font-size:7.40px;color:#1a1a1a;transform:scaleX(0.8261);transform-origin:0 0;-webkit-text-stroke:0.25px #1a1a1a;">0</div>
<div class="vl" style="left:349.5px;top:280.0px;height:21.0px"></div>
<div class="arD" style="left:347.0px;top:295.0px"></div>
<div class="t" style="left:352.90px;top:288.10px;font-size:7.40px;color:#1a1a1a;transform:scaleX(0.8261);transform-origin:0 0;-webkit-text-stroke:0.25px #1a1a1a;">0</div>
<div class="vl" style="left:349.5px;top:322.0px;height:21.5px"></div>
<div class="arD" style="left:347.0px;top:337.5px"></div>
<div class="t" style="left:352.90px;top:330.10px;font-size:7.40px;color:#1a1a1a;transform:scaleX(0.8261);transform-origin:0 0;-webkit-text-stroke:0.25px #1a1a1a;">0</div>
<div class="vl" style="left:349.5px;top:364.5px;height:29.0px"></div>
<div class="arD" style="left:347.0px;top:387.5px"></div>
<div class="t" style="left:352.90px;top:372.60px;font-size:7.40px;color:#1a1a1a;transform:scaleX(0.8261);transform-origin:0 0;-webkit-text-stroke:0.25px #1a1a1a;">0</div>
<div class="hl" style="left:350.0px;top:287.0px;width:144.0px"></div>
<div class="vl" style="left:493.5px;top:287.5px;height:106.0px"></div>
<div class="arD" style="left:491.0px;top:387.5px"></div>
<div class="t" style="left:497.00px;top:288.00px;font-size:7.40px;color:#1a1a1a;transform:scaleX(0.8297);transform-origin:0 0;-webkit-text-stroke:0.25px #1a1a1a;">Sonst</div>
<div class="hl" style="left:402.0px;top:402.8px;width:39.0px"></div>
<div class="arR" style="left:435.0px;top:400.3px"></div>
<div class="t" style="left:411.90px;top:403.70px;font-size:7.40px;color:#1a1a1a;transform:scaleX(0.8747);transform-origin:0 0;background:#fff;-webkit-text-stroke:0.25px #1a1a1a;">0</div>
<div class="vl" style="left:493.5px;top:414.5px;height:19.5px"></div>
<div class="arD" style="left:491.0px;top:428.0px"></div>
<div class="t" style="left:497.00px;top:422.10px;font-size:7.40px;color:#1a1a1a;transform:scaleX(0.7632);transform-origin:0 0;-webkit-text-stroke:0.25px #1a1a1a;">Immer</div>
<div class="a" style="left:420px;top:434px;width:133px;height:125px;border:1px solid #505850;border-right:none;border-bottom:none;background:linear-gradient(#b2dc9c,#cfe9c4)"></div>
<div class="a" style="left:421.5px;top:439px;width:18px;height:12px;border:1px solid #5a646e;border-radius:1.5px;background:linear-gradient(170deg,#a4aab2 0,#8a949e 35%,#6a7a8a 50%,#8aa4c0 75%,#b4d2f0 100%)"></div>
<div class="t" style="left:441.70px;top:441.05px;font-size:7.50px;font-weight:bold;color:#121212;transform:scaleX(0.8924);transform-origin:0 0;">Gruppe</div>
<div class="node" style="left:440.0px;top:454.0px;width:105.0px;height:21.5px;"><svg style="left:2.5px;top:1.5px" width="17" height="17" viewBox="0 0 17 17"><defs><linearGradient id="bxg" x1="0" y1="0" x2="1" y2="1"><stop offset="0" stop-color="#eee294"/><stop offset=".5" stop-color="#d0bc48"/><stop offset="1" stop-color="#b09820"/></linearGradient></defs><path d="M1.5 2.2 l2.5-1.4 h11 l-2 1.4z" fill="#c8b440"/><path d="M13 2.2 l2-1.4 v12.6 l-2 1.8z" fill="#8e7a14"/><rect x="1.5" y="2.2" width="11.5" height="13" fill="url(#bxg)" stroke="#9a8620" stroke-width=".5"/><path d="M7.2 2.2 v13 M1.5 8.6 h11.5" stroke="#8a7a28" stroke-width=".8"/><path d="M14 1.5 v13" stroke="#6e6010" stroke-width=".5"/></svg></div>
<div class="t" style="left:461.80px;top:460.45px;font-size:7.50px;font-weight:bold;color:#121212;transform:scaleX(0.8986);transform-origin:0 0;">FlashPlayer installieren</div>
<div class="node" style="left:440.0px;top:495.0px;width:105.0px;height:21.5px;"><svg style="left:2.5px;top:0.5px" width="17" height="19" viewBox="0 0 17 19"><defs><linearGradient id="rtg" x1="0" y1="0" x2="1" y2="1"><stop offset="0" stop-color="#fae878"/><stop offset=".5" stop-color="#f2c830"/><stop offset="1" stop-color="#d8a010"/></linearGradient><linearGradient id="rtr" x1="0" y1="0" x2="1" y2="1"><stop offset="0" stop-color="#ff8a8a"/><stop offset=".5" stop-color="#e83030"/><stop offset="1" stop-color="#b81818"/></linearGradient></defs><path d="M2 3 l3.5-2.2 h10 l-3 2.2z" fill="#f0d060" stroke="#b88a10" stroke-width=".4"/><path d="M12.5 3 l3-2.2 v14.5 l-3 2.6z" fill="#c8900c"/><rect x="2" y="3" width="10.5" height="14.9" fill="url(#rtg)" stroke="#b08410" stroke-width=".4"/><path d="M12 4 C8 4.3 6.2 6.8 6 10 L3.4 9 L1.2 16.2 L8.4 13.8 L6.2 12.5 C6.5 9.6 8.3 7.2 12 6.3 Z" fill="url(#rtr)" stroke="#a01414" stroke-width=".4"/></svg></div>
<div class="t" style="left:461.80px;top:501.65px;font-size:7.50px;font-weight:bold;color:#121212;transform:scaleX(0.9323);transform-origin:0 0;">Rückgabewert</div>
<div class="node" style="left:440.0px;top:537.0px;width:105.0px;height:21.5px;"><svg style="left:2.5px;top:1.5px" width="17" height="17" viewBox="0 0 17 17"><defs><linearGradient id="bxg" x1="0" y1="0" x2="1" y2="1"><stop offset="0" stop-color="#eee294"/><stop offset=".5" stop-color="#d0bc48"/><stop offset="1" stop-color="#b09820"/></linearGradient></defs><path d="M1.5 2.2 l2.5-1.4 h11 l-2 1.4z" fill="#c8b440"/><path d="M13 2.2 l2-1.4 v12.6 l-2 1.8z" fill="#8e7a14"/><rect x="1.5" y="2.2" width="11.5" height="13" fill="url(#bxg)" stroke="#9a8620" stroke-width=".5"/><path d="M7.2 2.2 v13 M1.5 8.6 h11.5" stroke="#8a7a28" stroke-width=".8"/><path d="M14 1.5 v13" stroke="#6e6010" stroke-width=".5"/></svg></div>
<div class="t" style="left:461.80px;top:543.25px;font-size:7.50px;font-weight:bold;color:#121212;transform:scaleX(0.9186);transform-origin:0 0;">IrfanView installieren</div>
<div class="vl" style="left:492.0px;top:475.5px;height:20.0px"></div>
<div class="arD" style="left:489.5px;top:489.5px"></div>
<div class="t" style="left:495.30px;top:483.60px;font-size:7.40px;color:#1a1a1a;transform:scaleX(0.7918);transform-origin:0 0;-webkit-text-stroke:0.25px #1a1a1a;">Immer</div>
<div class="vl" style="left:492.0px;top:517.0px;height:20.0px"></div>
<div class="arD" style="left:489.5px;top:531.0px"></div>
<div class="t" style="left:495.30px;top:524.50px;font-size:7.40px;color:#1a1a1a;transform:scaleX(0.7918);transform-origin:0 0;-webkit-text-stroke:0.25px #1a1a1a;">Immer</div>
<div class="a" style="left:552px;top:56px;width:10px;height:502px;background:linear-gradient(to right,#f2f2f3,#f8f8f8 50%,#eeeef0)"></div>
<div class="a" style="left:554px;top:59px;width:0;height:0;border-left:3px solid transparent;border-right:3px solid transparent;border-bottom:3px solid #3a4a6a"></div>
<div class="a" style="left:552px;top:73.5px;width:10px;height:416px;border:1px solid #90b8dc;border-radius:2px;background:linear-gradient(to right,#d2e8f6 0,#c6e0f2 40%,#a6d0ec 55%,#9cc8e6 100%)"></div>
<div class="a" style="left:555px;top:279.5px;width:4px;height:4px;background:repeating-linear-gradient(#7890a8 0 1px,#d8e8f4 1px 2px)"></div>
<div class="a" style="left:554px;top:551px;width:0;height:0;border-left:3px solid transparent;border-right:3px solid transparent;border-top:3px solid #3a4a6a"></div>
<div class="a" style="left:126px;top:558px;width:426px;height:9px;background:#eef0f2"></div>
<div class="a" style="left:129.5px;top:559.5px;width:0;height:0;border-top:3px solid transparent;border-bottom:3px solid transparent;border-right:3px solid #3a4a6a"></div>
<div class="a" style="left:136px;top:558px;width:371px;height:9px;border:1px solid #a6aab0;border-radius:2px;background:linear-gradient(#f2f2f3,#e2e3e5 50%,#d4d6d9)"></div>
<div class="a" style="left:320.5px;top:560.5px;width:3px;height:3px;background:#8a9098"></div>
<div class="a" style="left:546px;top:559.5px;width:0;height:0;border-top:3px solid transparent;border-bottom:3px solid transparent;border-left:3px solid #3a4a6a"></div>
</div></body></html>
